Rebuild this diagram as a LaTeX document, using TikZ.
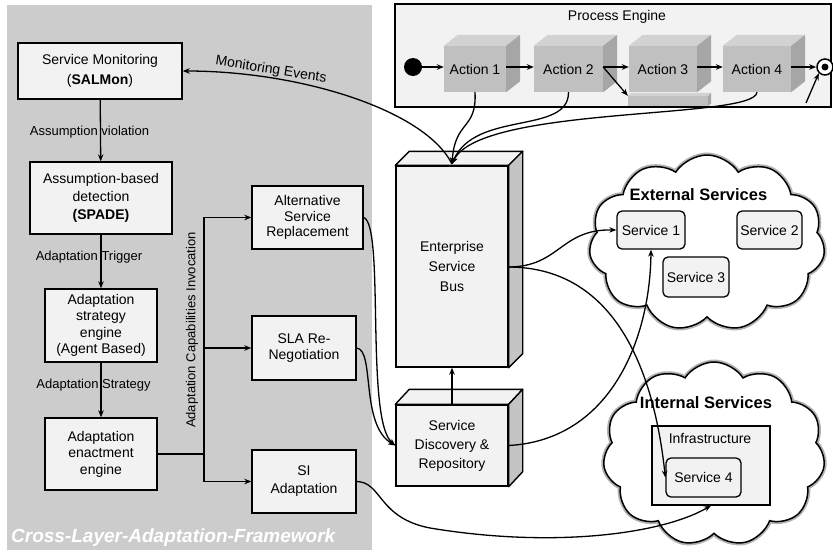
\documentclass[tikz,border=0pt]{standalone}
\usepackage{fontspec}
\setmainfont{Liberation Sans}
\usetikzlibrary{arrows.meta,shapes.symbols,calc}
\definecolor{panel}{HTML}{CCCCCC}
\definecolor{boxfill}{HTML}{F2F2F2}
\definecolor{actfront}{HTML}{C0C0C0}
\definecolor{acttop}{HTML}{D2D2D2}
\definecolor{actside}{HTML}{A6A6A6}
\definecolor{sidegray}{HTML}{C4C4C4}
\newcommand{\fsz}[2]{\fontsize{#1}{#2}\selectfont}
\newcommand{\topside}[5]{%
  \path[#4] (#1.north west) -- ($(#1.north west)+(#2,-#3)$) -- ($(#1.north east)+(#2,-#3)$) -- (#1.north east) -- cycle;
  \path[#5] (#1.north east) -- ($(#1.north east)+(#2,-#3)$) -- ($(#1.south east)+(#2,-#3)$) -- (#1.south east) -- cycle;}
\begin{document}
\begin{tikzpicture}[x=1pt,y=-1pt,
  box/.style={draw, line width=1.4pt, fill=boxfill, align=center, inner sep=2pt, font=\fsz{14}{16.5}},
  svc/.style={draw, line width=1.3pt, fill=boxfill, rounded corners=5pt, align=center, inner sep=2pt, font=\fsz{14}{16.5}, minimum height=38pt},
  action/.style={fill=actfront, minimum height=46pt, inner sep=0pt, font=\fsz{14}{16.5}},
  lbl/.style={font=\fsz{13}{15}, inner sep=1pt},
  arr/.style={line width=1.3pt, -{Stealth[length=7pt,width=5.5pt]}},
  ln/.style={line width=1.3pt},
  cloudshadow/.style={cloud, cloud puffs=11, cloud puff arc=115, cloud ignores aspect, draw=black!30, line width=5pt},
  cloudmain/.style={cloud, cloud puffs=11, cloud puff arc=115, cloud ignores aspect, draw=black, line width=1.5pt, fill=white},
]
\useasboundingbox (0,0) rectangle (833,552);

% ---------- left panel ----------
\fill[panel] (7,5) rectangle (372,550);

\node[box, minimum width=164pt, minimum height=56pt, font=\fsz{14}{19.5}] (mon) at (100,71) {Service Monitoring\\(\textbf{SALMon})};
\node[box, minimum width=142pt, minimum height=72pt, font=\fsz{14}{18}] (det) at (101,198) {Assumption-based\\detection\\\textbf{(SPADE)}};
\node[box, minimum width=112pt, minimum height=73pt] (str) at (101,325.5) {Adaptation\\strategy\\engine\\(Agent Based)};
\node[box, minimum width=112pt, minimum height=72pt] (enc) at (101,454) {Adaptation\\enactment\\engine};
\node[box, minimum width=111pt, minimum height=63pt, font=\fsz{14}{15.5}] (alt) at (307.5,217.5) {Alternative\\Service\\Replacement};
\node[box, minimum width=104pt, minimum height=64pt, font=\fsz{14}{15.5}] (sla) at (304,348) {SLA Re-\\Negotiation};
\node[box, minimum width=104pt, minimum height=63pt, font=\fsz{14}{18}] (si) at (304,481.5) {SI\\Adaptation};

\draw[arr] (mon) -- (det);
\draw[arr] (det) -- (str);
\draw[arr] (str) -- (enc);
\coordinate (j) at (204,454);
\draw[ln] (enc.east) -- (j);
\draw[arr] (j) |- (alt.west);
\draw[arr] (j) |- (sla.west);
\draw[arr] (j) |- (si.west);

\node[lbl] at (89.5,132) {Assumption violation};
\node[lbl] at (89,257) {Adaptation Trigger};
\node[lbl] at (93.5,385) {Adaptation Strategy};
\node[lbl, rotate=90] at (192,330) {Adaptation Capabilities Invocation};
\node[anchor=west, text=white, font=\fsz{19}{21}\bfseries\itshape, inner sep=0pt] (clf) at (11,538) {Cross-Layer-Adaptation-Framework};

% ---------- process engine ----------
\node[draw, line width=1.4pt, fill=boxfill, minimum width=436pt, minimum height=103pt, inner sep=0pt] (pe) at (613,55.5) {};
\node[font=\fsz{14}{16}] (pet) at (617,17) {Process Engine};

\node[action, minimum width=62pt] (a1) at (475,69) {Action 1};
\node[action, minimum width=69pt] (a2) at (568.5,69) {Action 2};
\node[action, minimum width=68pt] (a3) at (663,69) {Action 3};
\node[action, minimum width=68pt] (a4) at (757,69) {Action 4};
\topside{a1}{14}{11}{fill=acttop}{fill=actside}
\topside{a2}{14}{11}{fill=acttop}{fill=actside}
\topside{a3}{14}{11}{fill=acttop}{fill=actside}
\topside{a4}{14}{11}{fill=acttop}{fill=actside}
\node[fill=actfront, minimum width=80pt, minimum height=10pt, inner sep=0pt] (bar) at (668,101) {};
\topside{bar}{3}{3}{fill=acttop}{fill=actside}

\node[circle, fill=black, minimum size=18pt, inner sep=0pt] (st) at (413,67) {};
\node[circle, draw, line width=1.5pt, fill=white, minimum size=16pt, inner sep=0pt] (en) at (825,67) {};
\fill (en.center) circle (3.5pt);
\coordinate (ein) at (806,103);

\draw[arr] (st) -- (a1.west |- st);
\draw[arr] (a1.east |- st) -- (a2.west |- st);
\draw[arr] (a2.east |- st) -- (a3.west |- st);
\draw[arr] (a3.east |- st) -- (a4.west |- st);
\draw[arr] (a4.east |- st) -- (en.west);
\draw[arr] (a2.east |- st) -- (bar.north west);
\draw[arr] (ein) -- (en.south west);

% ---------- clouds ----------
\node[cloudshadow, minimum width=236pt, minimum height=176pt] at (707,243) {};
\node[cloudmain, minimum width=236pt, minimum height=176pt] (extc) at (707,243) {};
\node[cloudshadow, minimum width=222pt, minimum height=184pt] at (714,454) {};
\node[cloudmain, minimum width=222pt, minimum height=184pt] (intc) at (714,454) {};

\node[font=\fsz{16.5}{18}\bfseries] (ext) at (698.5,195) {External Services};
\node[svc, minimum width=68pt] (s1) at (651,230) {Service 1};
\node[svc, minimum width=65pt] (s2) at (769.5,230) {Service 2};
\node[svc, minimum width=66pt, minimum height=40pt] (s3) at (696,277) {Service 3};

\node[font=\fsz{16.5}{18}\bfseries] (int) at (706,403) {Internal Services};
\node[draw, line width=1.3pt, fill=boxfill, minimum width=118pt, minimum height=79pt, inner sep=0pt] (infra) at (711,465.5) {};
\node[font=\fsz{14}{16}] (inft) at (710,438) {Infrastructure};
\node[svc, minimum width=75pt, minimum height=39pt] (s4) at (703.5,477.5) {Service 4};

% ---------- ESB and SDR ----------
\node[box, minimum width=112pt, minimum height=201pt, font=\fsz{14}{20}] (esb) at (452,266.5) {Enterprise\\Service\\Bus};
\topside{esb}{14}{14}{draw, line width=1.4pt, fill=boxfill, line join=round}{draw, line width=1.4pt, fill=sidegray, line join=round}
\node[box, minimum width=112pt, minimum height=81pt, font=\fsz{14}{19}] (sdr) at (452,445.5) {Service\\Discovery \&\\Repository};
\topside{sdr}{14}{15}{draw, line width=1.4pt, fill=boxfill, line join=round}{draw, line width=1.4pt, fill=sidegray, line join=round}
\draw[arr] (sdr) -- (esb);

% ---------- connectors ----------
\coordinate (esbtop) at (452,164);
\draw[arr] (esbtop) .. controls (425,110) and (300,71) .. (mon.east);
\node[font=\fsz{14}{16}, rotate=-9] (me) at (271,70) {Monitoring Events};
\draw[arr] (a1.south) .. controls (477,130) and (455,120) .. (esbtop);
\draw[arr] (a2.south) .. controls (569,135) and (475,110) .. (esbtop);
\draw[arr] (a4.south) .. controls (755,120) and (480,105) .. (esbtop);

\coordinate (esbr) at (508,267);
\draw[arr] (esbr) .. controls (560,267) and (560,229) .. (s1.west);
\draw[arr] (esbr) .. controls (620,267) and (655,380) .. (s4.west);
\draw[arr] (sdr.east) .. controls (610,440) and (650,340) .. (s1.south);
\draw[arr] (alt.east) .. controls (385,225) and (365,420) .. (sdr.west);
\draw[arr] (sla.east) .. controls (375,350) and (360,425) .. (sdr.west);
\draw[arr] (si.east) .. controls (382,482) and (378,518) .. (430,528) .. controls (550,548) and (660,535) .. (infra.south);
\end{tikzpicture}
\end{document}
